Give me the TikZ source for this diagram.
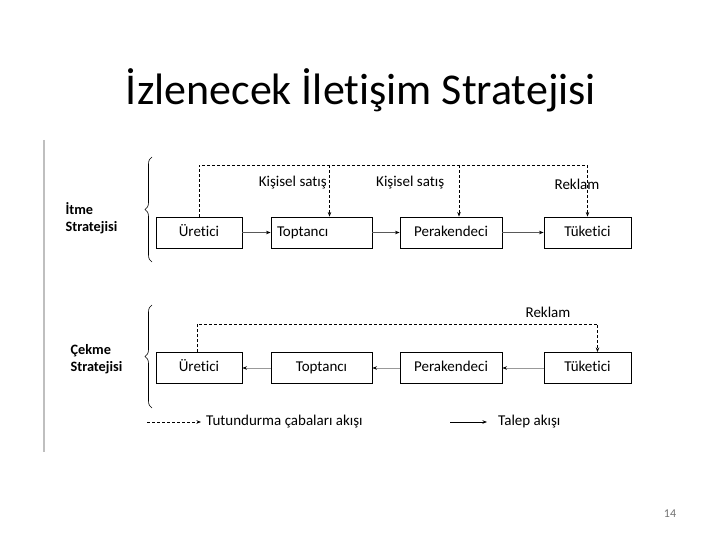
\documentclass[tikz,border=0pt]{standalone}
\usepackage{fontspec}
\setmainfont{Carlito}[Ligatures=CommonOff]
\usetikzlibrary{positioning, decorations.pathreplacing, arrows.meta}

\begin{document}
\begin{tikzpicture}[x=1pt, y=-1pt,
		box/.style = {draw, line width=0.9pt, minimum height=31pt, inner sep=0pt, text height=10.5pt, text depth=3pt, font=\fontsize{15}{17}\selectfont},
		push/.style = {dash pattern=on 3pt off 2pt, line width=0.7pt},
		demand/.style = {draw=black!65, line width=0.7pt},
		tip/.style = {-{Stealth[length=4.5pt, width=3.5pt, black]}},
		lbl/.style = {font=\fontsize{15}{17}\selectfont, inner sep=1pt},
		side/.style = {font=\bfseries\fontsize{14.3}{17}\selectfont, align=left, anchor=west}]
		
		\useasboundingbox (0,0) rectangle (720,540);
		
		\node (title) at (361,90) {\fontsize{44}{48}\selectfont İzlenecek İletişim Stratejisi};
		\draw [black!25, line width=2pt] (44,140) -- (44,452);
		
		% itme stratejisi
		\node [side] (itme) at (62,218) {İtme\\Stratejisi};
		\draw [decorate, decoration = {brace, amplitude=7pt}, line width=0.6pt] (152,262) -- (152,157);
		
		\node [box, minimum width=86pt] (u1) at (199,232.5) {Üretici};
		\node [box, minimum width=101pt, text width=89pt, align=left] (t1) at (321.5,232.5) {Toptancı};
		\node [box, minimum width=102pt] (p1) at (451,232.5) {Perakendeci};
		\node [box, minimum width=87pt] (d1) at (587.5,232.5) {Tüketici};
		
		\draw [demand, tip] (u1) -- (t1);
		\draw [demand, tip] (t1) -- (p1);
		\draw [demand, tip] (p1) -- (d1);
		
		\coordinate (line1) at (0,165);
		\draw [push, tip] (u1.north) |- (d1.north |- line1) -- (d1.north);
		\draw [push, tip] ([xshift=8pt]t1.north |- line1) -- ([xshift=8pt]t1.north);
		\draw [push, tip] ([xshift=8pt]p1.north |- line1) -- ([xshift=8pt]p1.north);
		
		\node [lbl, anchor=east] (ks1) at (328,183) {Kişisel satış};
		\node [lbl, anchor=west] (ks2) at (375,183) {Kişisel satış};
		\node [lbl] (rk1) at (577,184) {Reklam};
		
		% cekme stratejisi
		\node [side] (cekme) at (67,359) {Çekme\\Stratejisi};
		\draw [decorate, decoration = {brace, amplitude=7pt}, line width=0.6pt] (152,408) -- (152,305);
		
		\node [box, minimum width=86pt] (u2) at (199,368) {Üretici};
		\node [box, minimum width=101pt] (t2) at (321.5,368) {Toptancı};
		\node [box, minimum width=102pt] (p2) at (451,368) {Perakendeci};
		\node [box, minimum width=87pt] (d2) at (587.5,368) {Tüketici};
		
		\draw [demand, black!40, tip] (t2) -- (u2);
		\draw [demand, black!40, tip] (p2) -- (t2);
		\draw [demand, black!40, tip] (d2) -- (p2);
		
		\coordinate (line2) at (0,324);
		\draw [push, tip] ([xshift=-2pt]u2.north) |- ([xshift=10pt]d2.north |- line2) -- ([xshift=10pt]d2.north);
		\node [lbl] (rk2) at (548,312) {Reklam};
		
		% legend
		\coordinate (lg1) at (147,422);
		\node [lbl, anchor=west] (lgt1) at (205,422) {Tutundurma çabaları akışı};
		\draw [push, tip] (lg1) -- ([xshift=-4pt]lgt1.west);
		
		\coordinate (lg2) at (450,422);
		\node [lbl, anchor=west] (lgt2) at (497,422) {Talep akışı};
		\draw [line width=0.9pt, tip] (lg2) -- ([xshift=-10pt]lgt2.west);
		
		\node [text=black!55, font=\fontsize{12}{14}\selectfont] (page) at (670,514) {14};
\end{tikzpicture}
\end{document}
